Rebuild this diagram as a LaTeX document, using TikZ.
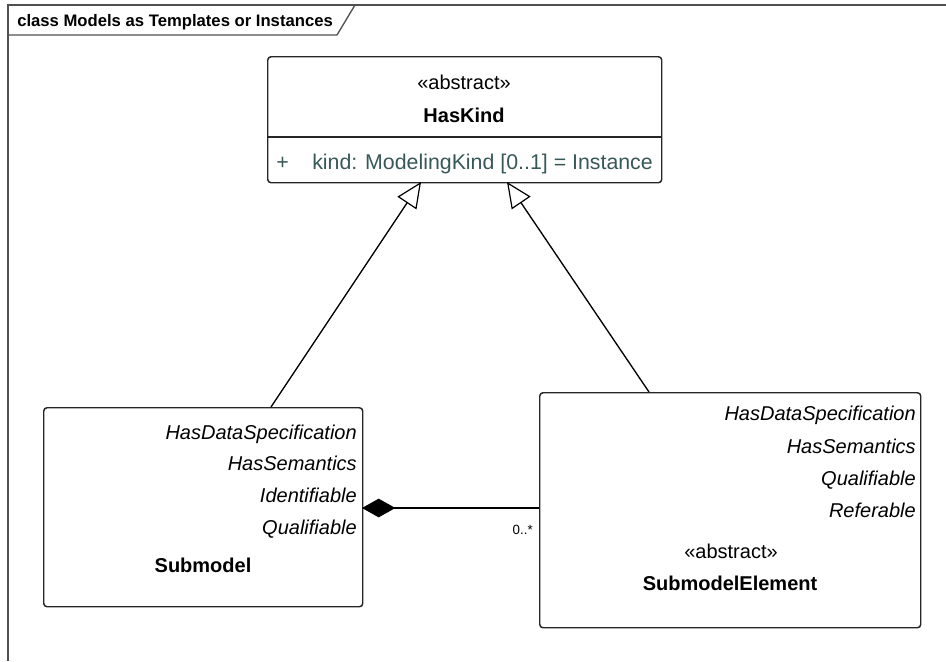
\documentclass[tikz,border=0pt]{standalone}
\usepackage{fontspec}
\setmainfont{Liberation Sans}
\usetikzlibrary{arrows.meta}
\definecolor{attr}{RGB}{56,88,88}
\definecolor{framec}{RGB}{80,80,80}
\tikzset{
  classbox/.style={draw=black!85, line width=1.1pt, rounded corners=2.5pt, fill=white},
  lbl/.style={inner sep=0pt, font=\fontsize{15}{18}\selectfont},
  ilbl/.style={lbl, font=\fontsize{15}{18}\selectfont\itshape},
  blbl/.style={lbl, font=\fontsize{15}{18}\selectfont\bfseries},
  conn/.style={draw=black, line width=1pt},
  gen/.style={conn, -{Triangle[open, length=19pt, width=17pt, line width=0.9pt]}},
  comp/.style={conn, {Diamond[length=25pt, width=14pt, fill=black]}-}
}
\begin{document}
\begin{tikzpicture}[x=0.75pt,y=-0.75pt]
\useasboundingbox (0,0) rectangle (946,661);
\fill[white] (0,0) rectangle (946,661);
% frame
\draw[framec, line width=1pt] (8,661) -- (8,5) -- (946,5);
\draw[framec, line width=1pt] (8,35) -- (337,35) -- (355,5);
\node[anchor=base west, inner sep=0pt, font=\fontsize{12.5}{14}\selectfont\bfseries] (title) at (17,26) {class Models as Templates or Instances};

% HasKind
\node[classbox, minimum width=394*0.75pt, minimum height=126*0.75pt, anchor=north west] (haskind) at (267,56) {};
\draw[black!85, line width=1pt] (267,137) -- (661,137);
\node[lbl, anchor=base] (hkst) at (464,89) {«abstract»};
\node[blbl, anchor=base] (hkname) at (464,122) {HasKind};
\node[lbl, anchor=base west, text=attr, font=\fontsize{16}{18}\selectfont] (plus) at (276,169) {+};
\node[lbl, anchor=base west, text=attr, font=\fontsize{16}{18}\selectfont] (attr) at (312,169) {kind: ModelingKind [0..1] = Instance};

% Submodel
\node[classbox, minimum width=319*0.75pt, minimum height=199*0.75pt, anchor=north west] (sm) at (43,407) {};
\node[ilbl, anchor=base east] (sm1) at (357,439) {HasDataSpecification};
\node[ilbl, anchor=base east] (sm2) at (357,470) {HasSemantics};
\node[ilbl, anchor=base east] (sm3) at (357,502) {Identifiable};
\node[ilbl, anchor=base east] (sm4) at (357,534) {Qualifiable};
\node[blbl, anchor=base] (smname) at (203,572) {Submodel};

% SubmodelElement
\node[classbox, minimum width=381*0.75pt, minimum height=235*0.75pt, anchor=north west] (sme) at (539,392) {};
\node[ilbl, anchor=base east] (sme1) at (916,420) {HasDataSpecification};
\node[ilbl, anchor=base east] (sme2) at (916,453) {HasSemantics};
\node[ilbl, anchor=base east] (sme3) at (916,485) {Qualifiable};
\node[ilbl, anchor=base east] (sme4) at (916,517) {Referable};
\node[lbl, anchor=base] (smest) at (731,558) {«abstract»};
\node[blbl, anchor=base] (smename) at (730,590) {SubmodelElement};

% connector end points on the boxes
\coordinate (g1s) at (271,407);
\coordinate (g1e) at (421,182);
\coordinate (g2s) at (649,392);
\coordinate (g2e) at (507,182);
\coordinate (cs) at (362,508);
\coordinate (ce) at (539,508);

\draw[gen] (g1s) -- (g1e);
\draw[gen] (g2s) -- (g2e);
\draw[comp] (cs) -- (ce);
\node[anchor=east, inner sep=0pt, font=\fontsize{10}{11}\selectfont] (mult) at (533,530) {0..*};
\end{tikzpicture}
\end{document}
